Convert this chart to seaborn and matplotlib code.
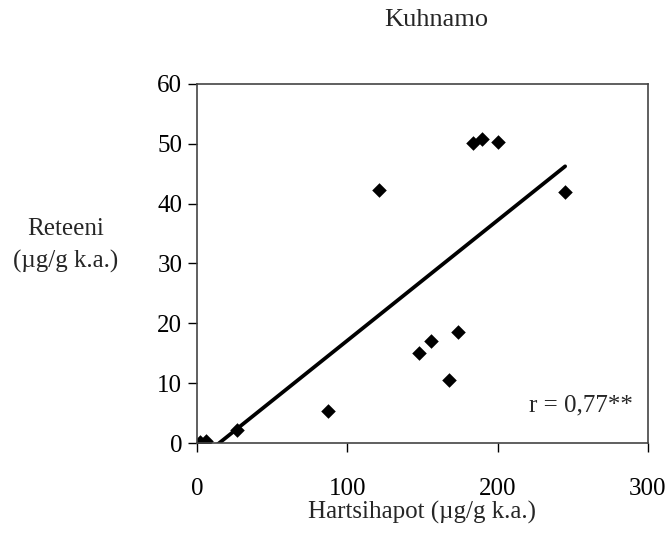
import numpy as np
import pandas as pd
import matplotlib
matplotlib.use('Agg')
import matplotlib.pyplot as plt
import seaborn as sns

# Values
hartsihapot = [2, 6, 27, 87, 121, 148, 156, 168, 174, 184, 190, 200, 245]
reteeni = [0.1, 0.3, 2.1, 5.4, 42.2, 15.1, 17.0, 10.5, 18.5, 50.1, 50.7, 50.2, 42.0]

df = pd.DataFrame({'x': hartsihapot, 'y': reteeni})

sns.set_style('ticks')
plt.rcParams['font.family'] = ['Liberation Serif', 'DejaVu Serif']

fig = plt.figure(figsize=(6.72, 5.37), dpi=100)
ax = fig.add_axes([0.293, 0.175, 0.671, 0.669])

sns.regplot(data=df, x='x', y='y', ax=ax, ci=None, marker='D', color='black',
            scatter_kws={'s': 55, 'linewidths': 0, 'alpha': 1},
            line_kws={'color': 'black', 'lw': 2.7})

ax.set_xlim(0, 300)
ax.set_ylim(0, 60)
ax.set_xticks([0, 100, 200, 300])
ax.set_yticks(range(0, 61, 10))
ax.tick_params(labelsize=18, length=6.5, width=1, direction='out', colors='black')
ax.tick_params(axis='x', pad=19)
ax.tick_params(axis='y', pad=4)
for s in ax.spines.values():
    s.set_color('#444444')
    s.set_linewidth(1.2)

ax.set_xlabel('Hartsihapot (µg/g k.a.)', fontsize=18, labelpad=0)
ax.set_ylabel('Reteeni\n(µg/g k.a.)', fontsize=18, rotation=0,
              ha='center', va='center', labelpad=0, linespacing=1.55)
ax.yaxis.set_label_coords(-0.292, 0.55)

ax.text(0.967, 0.104, 'r = 0,77**', transform=ax.transAxes, fontsize=18,
        ha='right', va='center')
fig.text(0.649, 0.963, 'Kuhnamo', fontsize=19, ha='center', va='center')

fig.savefig('out.png', dpi=100, facecolor='white')
